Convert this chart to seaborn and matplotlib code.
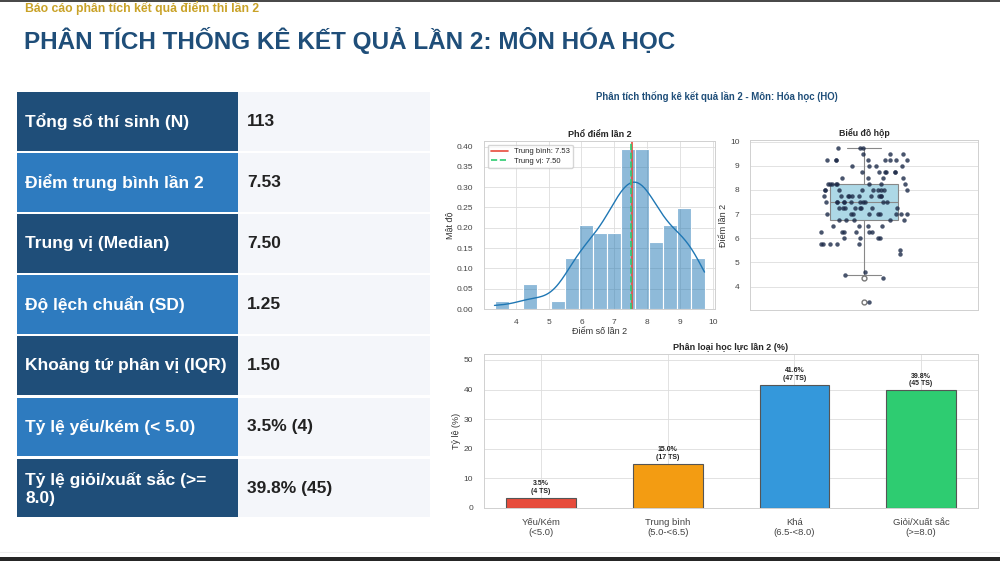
import numpy as np
import pandas as pd
import matplotlib
matplotlib.use("Agg")
import matplotlib.pyplot as plt
import seaborn as sns
from matplotlib.patches import Rectangle

# ---------------- data ----------------
score_values = [3.35, 4.35, 4.5, 4.6, 5.35, 5.5, 5.75, 6.0, 6.25, 6.5, 6.75, 7.0,
                7.25, 7.5, 7.75, 8.0, 8.25, 8.5, 8.75, 9.0, 9.25, 9.5, 9.75]
score_counts = [1, 1, 1, 1, 1, 1, 5, 4, 6, 4, 5, 9,
                8, 11, 10, 9, 8, 4, 6, 4, 8, 3, 3]

cat_labels = ["Yếu/Kém\n(<5.0)", "Trung bình\n(5.0-<6.5)", "Khá\n(6.5-<8.0)", "Giỏi/Xuất sắc\n(>=8.0)"]
cat_pct = [3.5, 15.0, 41.6, 39.8]
cat_n = [4, 17, 47, 45]
cat_colors = ["#e74c3c", "#f39c12", "#3498db", "#2ecc71"]

stat_labels = ["Tổng số thí sinh (N)", "Điểm trung bình lần 2", "Trung vị (Median)",
               "Độ lệch chuẩn (SD)", "Khoảng tứ phân vị (IQR)", "Tỷ lệ yếu/kém (< 5.0)",
               "Tỷ lệ giỏi/xuất sắc (>=\n8.0)"]
stat_values = ["113", "7.53", "7.50", "1.25", "1.50", "3.5% (4)", "39.8% (45)"]

mean_val = 7.53
median_val = 7.50

scores = np.repeat(score_values, score_counts)
df = pd.DataFrame({"score": scores})
cat_df = pd.DataFrame({"cat": cat_labels, "pct": cat_pct})

# ---------------- style ----------------
sns.set_theme(style="whitegrid")
plt.rcParams["font.family"] = ["Liberation Sans", "DejaVu Sans"]
plt.rcParams["axes.edgecolor"] = "#d0d0d0"
plt.rcParams["grid.color"] = "#dddddd"
plt.rcParams["grid.linewidth"] = 0.6
plt.rcParams["axes.linewidth"] = 0.7
plt.rcParams["xtick.labelsize"] = 6
plt.rcParams["ytick.labelsize"] = 6
plt.rcParams["xtick.color"] = "#444444"
plt.rcParams["ytick.color"] = "#444444"
plt.rcParams["xtick.major.pad"] = 1.5
plt.rcParams["ytick.major.pad"] = 2

fig = plt.figure(figsize=(10, 5.61), dpi=100)
fig.patch.set_facecolor("white")

# ---------------- slide overlay (table, titles) ----------------
ov = fig.add_axes([0, 0, 1, 1], zorder=-1)
ov.set_xlim(0, 1000)
ov.set_ylim(561, 0)
ov.axis("off")

ov.add_patch(Rectangle((0, 0), 1000, 2, color="#4a4a4a", lw=0))
ov.add_patch(Rectangle((0, 557), 1000, 4, color="#262626", lw=0))
ov.plot([0, 1000], [552, 552], color="#eeeeee", lw=0.8)

ov.text(25, 8, "Báo cáo phân tích kết quả điểm thi lần 2", fontsize=8.8, fontweight="bold",
        color="#c9a227", va="center", ha="left")
ov.text(24, 40, "PHÂN TÍCH THỐNG KÊ KẾT QUẢ LẦN 2: MÔN HÓA HỌC", fontsize=17.5,
        fontweight="bold", color="#1f4e79", va="center", ha="left")

row_top = 92
row_pitch = 61.1
row_h = 58.8
for i, (lab, val) in enumerate(zip(stat_labels, stat_values)):
    y0 = row_top + i * row_pitch
    col = "#1f4e79" if i % 2 == 0 else "#2e7bbf"
    ov.add_patch(Rectangle((17, y0), 221, row_h, color=col, lw=0))
    ov.add_patch(Rectangle((238, y0), 192, row_h, color="#f4f6fa", lw=0))
    ov.text(25, y0 + row_h / 2, lab, fontsize=12.5, fontweight="bold", color="white",
            va="center", ha="left", linespacing=1.2)
    ov.text(247, y0 + row_h / 2, val, fontsize=12.5, fontweight="bold", color="#222222",
            va="center", ha="left")

# ---------------- right figure ----------------
fig.text(0.717, 1 - 96 / 561, "Phân tích thống kê kết quả lần 2 - Môn: Hóa học (HO)",
         fontsize=6.9, fontweight="bold", color="#1f4e79", ha="center", va="center")

# histogram
ax1 = fig.add_axes([0.484, 1 - 309 / 561, 0.231, (309 - 141) / 561])
sns.histplot(data=df, x="score", bins=15, stat="density", kde=True, color="#1f77b4",
             alpha=0.5, edgecolor="white", linewidth=0.8, line_kws={"linewidth": 1.0}, ax=ax1)
ax1.axvline(mean_val, color="#e74c3c", lw=1.2, label=f"Trung bình: {mean_val:.2f}")
ax1.axvline(median_val, color="#2ecc71", lw=1.2, ls="--", label=f"Trung vị: {median_val:.2f}")
ax1.set_title("Phổ điểm lần 2", fontsize=6.5, fontweight="bold", pad=3)
ax1.set_xlabel("Điểm số lần 2", fontsize=6.5, labelpad=0.5, color="#333333")
ax1.set_ylabel("Mật độ", fontsize=6.5, labelpad=1.5, color="#333333")
ax1.legend(loc="upper left", fontsize=5.5, frameon=True, borderpad=0.4, handlelength=2.2,
           labelspacing=0.3)

# boxplot + strip
ax2 = fig.add_axes([0.750, 1 - 310 / 561, 0.228, (310 - 140) / 561])
sns.boxplot(data=df, y="score", ax=ax2, width=0.3, color="lightblue", saturation=1,
            linecolor="#888888", linewidth=0.8,
            flierprops=dict(marker="o", markerfacecolor="white", markeredgecolor="#777777",
                            markersize=3.5))
np.random.seed(3)
sns.stripplot(data=df, y="score", ax=ax2, color="#1c2a48", alpha=0.8, size=3.2, jitter=0.2)
ax2.set_title("Biểu đồ hộp", fontsize=6.3, fontweight="bold", pad=3)
ax2.set_ylabel("Điểm lần 2", fontsize=6.5, labelpad=1.5, color="#333333")
ax2.set_xlabel("")
ax2.set_xticks([])
ax2.tick_params(axis="y", pad=1.5)

# bar chart
ax3 = fig.add_axes([0.484, 1 - 508 / 561, 0.494, (508 - 354) / 561])
sns.barplot(data=cat_df, x="cat", y="pct", hue="cat", palette=cat_colors, legend=False,
            width=0.55, saturation=1, edgecolor="#555555", linewidth=0.8, ax=ax3)
for i, (p, n) in enumerate(zip(cat_pct, cat_n)):
    ax3.text(i, p + 1.0, f"{p:.1f}%\n({n} TS)", ha="center", va="bottom", fontsize=5,
             fontweight="bold", color="#222222", linespacing=1.1)
ax3.set_ylim(0, 52)
ax3.set_xlim(-0.45, 3.45)
ax3.xaxis.grid(True)
ax3.tick_params(axis="x", labelsize=6.8, pad=1)
ax3.set_title("Phân loại học lực lần 2 (%)", fontsize=6.5, fontweight="bold", pad=3)
ax3.set_ylabel("Tỷ lệ (%)", fontsize=6.5, labelpad=2, color="#333333")
ax3.set_xlabel("")

fig.savefig("out.png", dpi=100, facecolor="white")
